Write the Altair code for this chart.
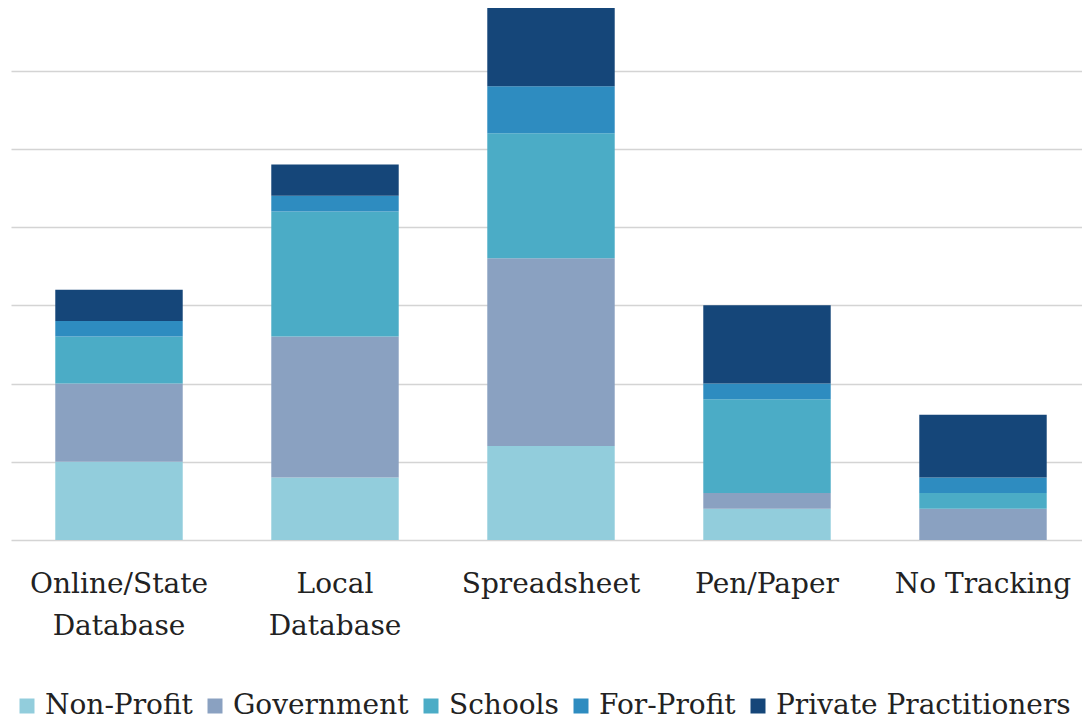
import altair as alt
import pandas as pd

categories = ["Online/State Database", "Local Database", "Spreadsheet", "Pen/Paper", "No Tracking"]
sectors = ["Non-Profit", "Government", "Schools", "For-Profit", "Private Practitioners"]
colors = ["#92CDDC", "#8AA1C1", "#4BACC6", "#2E8CC0", "#154679"]

non_profit = [5, 4, 6, 2, 0]
government = [5, 9, 12, 1, 2]
schools = [3, 8, 8, 6, 1]
for_profit = [1, 1, 3, 1, 1]
private = [2, 2, 5, 5, 4]

series = [non_profit, government, schools, for_profit, private]
rows = []
for si, (s, vals) in enumerate(zip(sectors, series)):
    for c, v in zip(categories, vals):
        rows.append({"category": c, "sector": s, "value": v, "idx": si})
df = pd.DataFrame(rows)

FONT = "DejaVu Serif"

label_expr = (
    "datum.label == 'Online/State Database' ? ['Online/State', 'Database'] : "
    "datum.label == 'Local Database' ? ['Local', 'Database'] : datum.label"
)

chart = alt.Chart(df).mark_bar().encode(
    x=alt.X("category:N", sort=categories, title=None,
            scale=alt.Scale(paddingInner=0.41, paddingOuter=0.205, range=[0, 1080]),
            axis=alt.Axis(labelAngle=0, labelFont=FONT, labelFontSize=28,
                          labelColor="#222222", labelPadding=30, ticks=False,
                          domain=False, grid=False, labelExpr=label_expr,
                          labelLineHeight=42, labelBaseline="top")),
    y=alt.Y("value:Q", stack="zero", title=None,
            scale=alt.Scale(domain=[0, 34], nice=False),
            axis=alt.Axis(values=[0, 5, 10, 15, 20, 25, 30], labels=False, ticks=False,
                          domain=False, grid=True, gridColor="#D4D4D4", gridWidth=1.5)),
    color=alt.Color("sector:N", sort=sectors,
                    scale=alt.Scale(domain=sectors, range=colors),
                    legend=alt.Legend(title=None, orient="none", direction="horizontal",
                                      legendX=2, legendY=684,
                                      labelFont=FONT, labelFontSize=28, labelColor="#222222",
                                      symbolType="square", symbolSize=225,
                                      symbolStrokeWidth=0, labelOffset=4,
                                      columnPadding=8, labelLimit=400)),
    order=alt.Order("idx:Q", sort="ascending"),
).properties(
    width=1071, height=532,
    padding={"left": 3, "right": 0, "top": 0, "bottom": 180},
    autosize=alt.AutoSizeParams(type="none"),
).configure_view(stroke=None)

chart.save("out.html", embed_options={"renderer": "svg", "actions": False})
